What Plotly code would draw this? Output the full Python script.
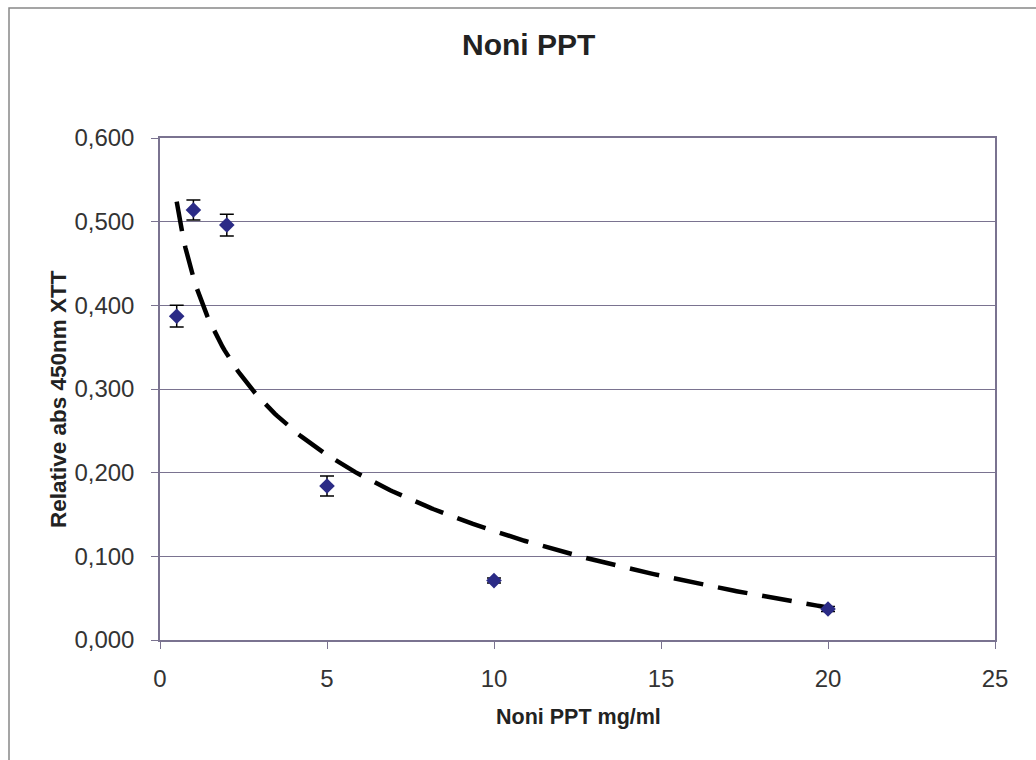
import numpy as np
import plotly.graph_objects as go

conc = [0.5, 1, 2, 5, 10, 20]
absorb = [0.387, 0.514, 0.496, 0.184, 0.071, 0.037]
err = [0.013, 0.012, 0.013, 0.012, 0.003, 0.003]
x_ticks = [0, 5, 10, 15, 20, 25]
y_ticks = [0.0, 0.1, 0.2, 0.3, 0.4, 0.5, 0.6]

# logarithmic trendline (least squares on ln x)
a, b = np.polyfit(np.log(conc), absorb, 1)
xt = np.linspace(min(conc), max(conc), 300)
yt = a * np.log(xt) + b

fig = go.Figure()
fig.add_trace(go.Scatter(
    x=xt, y=yt, mode="lines",
    line=dict(color="black", width=4.5, dash="30px,15px"),
    hoverinfo="skip", showlegend=False,
))
fig.add_trace(go.Scatter(
    x=conc, y=absorb, mode="markers",
    marker=dict(symbol="diamond", size=12, color="#2b2b86"),
    error_y=dict(type="data", array=err, visible=True, color="black", thickness=1.5, width=7),
    showlegend=False,
))

font = "Liberation Sans, Arial, sans-serif"
L, R, T, B = 160, 41, 138, 120
PW, PH = 1036 - L - R, 760 - T - B

def px(xp):
    return (xp - L) / PW

def py(yp):
    return (760 - B - yp) / PH

fig.update_layout(
    width=1036, height=760,
    margin=dict(l=L, r=R, t=T, b=B),
    paper_bgcolor="white", plot_bgcolor="white",
    separators=",.",
    font=dict(family=font, color="#333333"),
    xaxis=dict(
        range=[0, 25], tickvals=x_ticks, showgrid=False, zeroline=False,
        showline=True, linecolor="#7a7390", linewidth=1.5, mirror=True,
        ticks="outside", ticklen=7, tickcolor="#7a7390",
        tickfont=dict(size=24, color="#333333"), ticklabelstandoff=9,
    ),
    yaxis=dict(
        range=[0, 0.6], tickvals=y_ticks, tickformat=".3f", showgrid=True,
        gridcolor="#7a7390", gridwidth=1.2, zeroline=False,
        showline=True, linecolor="#7a7390", linewidth=1.5, mirror=True,
        ticks="outside", ticklen=7, tickcolor="#7a7390",
        tickfont=dict(size=24, color="#333333"), ticklabelstandoff=12,
    ),
    annotations=[
        dict(text="<b>Noni PPT</b>", xref="paper", yref="paper", x=px(528), y=py(45),
             xanchor="center", yanchor="middle", showarrow=False,
             font=dict(size=30, color="#222222", family=font)),
        dict(text="<b>Noni PPT mg/ml</b>", xref="paper", yref="paper", x=px(578), y=py(717),
             xanchor="center", yanchor="middle", showarrow=False,
             font=dict(size=21.5, color="#222222", family=font)),
        dict(text="<b>Relative abs 450nm XTT</b>", xref="paper", yref="paper", x=px(58), y=py(399),
             xanchor="center", yanchor="middle", showarrow=False, textangle=-90,
             font=dict(size=22.5, color="#222222", family=font)),
    ],
)
fig.add_shape(type="rect", xref="paper", yref="paper",
              x0=px(9), y0=py(8), x1=px(1045), y1=py(770),
              line=dict(color="#888888", width=1.5), layer="below")
fig.write_html("out.html", config={"displayModeBar": False},
               post_script="document.body.style.margin='0px';")
